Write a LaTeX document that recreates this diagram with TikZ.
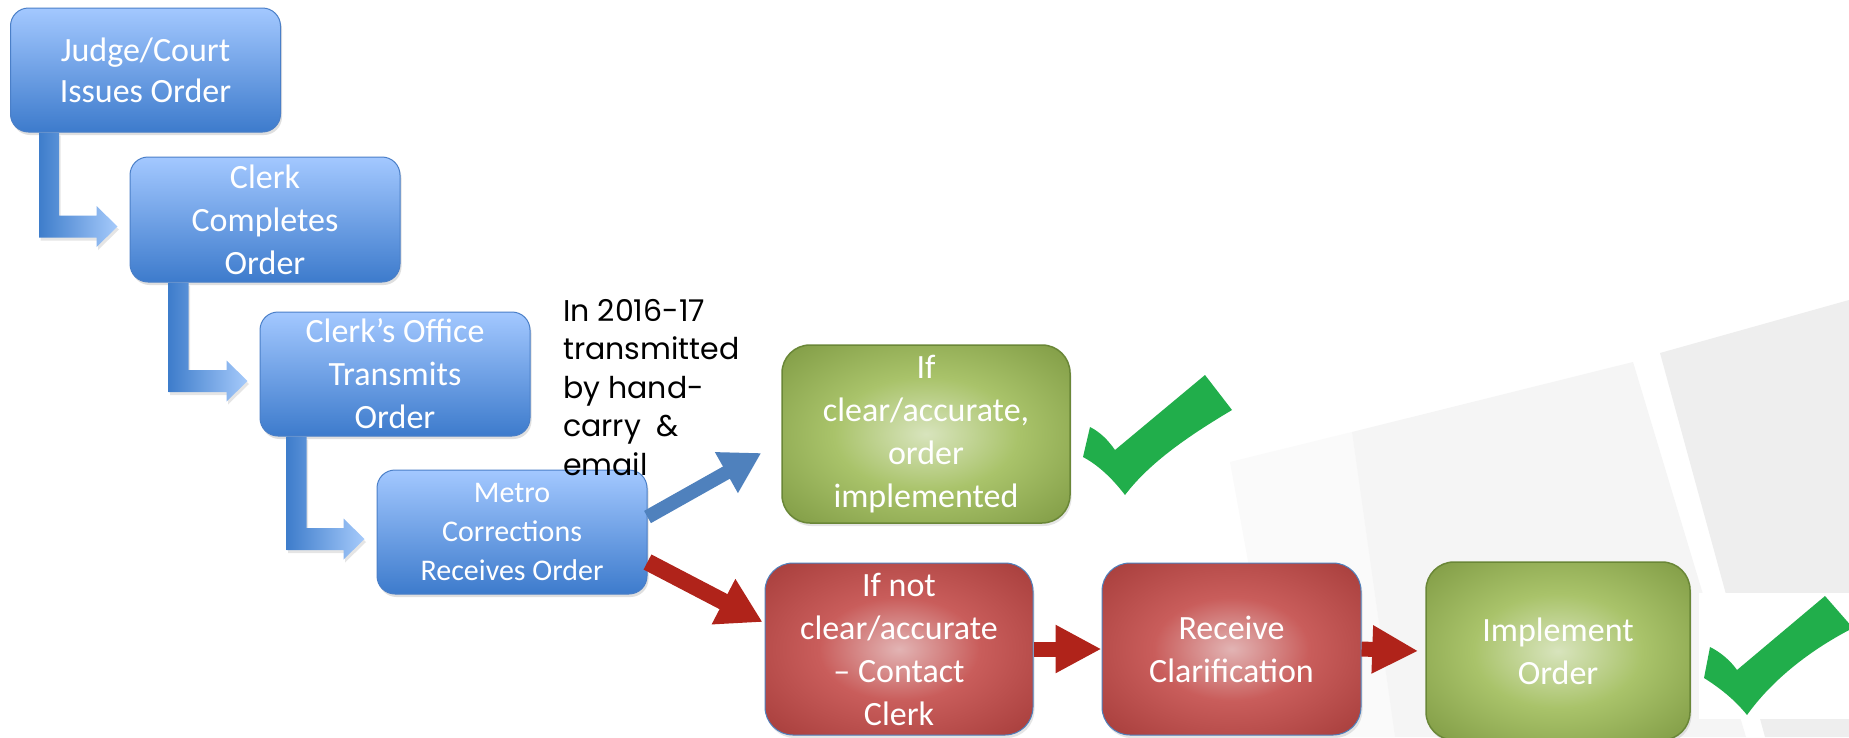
\documentclass[tikz,border=0pt]{standalone}
\usepackage{fontspec}
\setmainfont{Carlito}
\newfontfamily\gothic{Poppins}
\usetikzlibrary{arrows.meta,calc,shadows}

\definecolor{bluetop}{HTML}{A3C8FF}
\definecolor{bluebot}{HTML}{3D7BCC}
\definecolor{blueedge}{HTML}{4A7FC8}
\definecolor{arrowdark}{HTML}{3E7DCB}
\definecolor{arrowlight}{HTML}{A6CAFB}
\definecolor{steel}{HTML}{4F81BD}
\definecolor{brick}{HTML}{B0231A}
\definecolor{checkgreen}{HTML}{21AE4B}
\definecolor{Gzero}{HTML}{D8E4BD}
\definecolor{Gone}{HTML}{A9C36A}
\definecolor{Gtwo}{HTML}{87A24B}
\definecolor{Gthree}{HTML}{6A8737}
\definecolor{Rzero}{HTML}{E2B4B4}
\definecolor{Rone}{HTML}{C95D5B}
\definecolor{Rtwo}{HTML}{AE4442}
\definecolor{Rthree}{HTML}{863030}
\definecolor{panelfade}{HTML}{FAFAFA}
\definecolor{panelA}{HTML}{F5F5F5}
\definecolor{panelB}{HTML}{EEEEEE}

\pgfdeclareradialshading{greenglow}{\pgfpoint{0bp}{0bp}}{%
  color(0bp)=(Gzero); color(16bp)=(Gone); color(32bp)=(Gtwo);
  color(46bp)=(Gthree); color(75bp)=(Gthree)}
\pgfdeclareradialshading{redglow}{\pgfpoint{0bp}{0bp}}{%
  color(0bp)=(Rzero); color(15bp)=(Rone); color(31bp)=(Rtwo);
  color(46bp)=(Rthree); color(75bp)=(Rthree)}

\tikzset{
  box/.style={align=center, text=white, inner sep=0pt,
    font=\fontsize{34}{43}\selectfont},
  bluebox/.style={box, rounded corners=18pt, draw=blueedge, line width=1pt,
    top color=bluetop, bottom color=bluebot,
    minimum width=270pt, minimum height=124pt,
    drop shadow={opacity=0.25, shadow xshift=1.5pt, shadow yshift=-3pt}},
  greenbox/.style={box, rounded corners=28pt, draw=Gthree, line width=1.5pt,
    shading=greenglow,
    drop shadow={opacity=0.2, shadow xshift=1.5pt, shadow yshift=-3pt}},
  redbox/.style={box, rounded corners=28pt, draw=steel, line width=1pt,
    shading=redglow,
    drop shadow={opacity=0.2, shadow xshift=1.5pt, shadow yshift=-3pt}},
  elbowarrow/.style={left color=arrowdark, right color=arrowlight,
    drop shadow={opacity=0.2, shadow xshift=1.5pt, shadow yshift=-3pt}},
  bluefat/.style={draw=steel, line width=14pt,
    -{Triangle[width=44pt,length=40pt]}},
  redfat/.style={draw=brick, line width=17pt,
    -{Triangle[width=48pt,length=44pt]}},
  redlink/.style={draw=brick, line width=15pt,
    -{Triangle[width=45pt,length=46pt]}},
  tick/.style={fill=checkgreen},
}

% elbow connector: #1 source box, #2 target box, #3 shaft offset from the source's left edge
\newcommand\elbow[3]{%
  \path[elbowarrow] let \p1=(#1.south west), \p2=(#2.west) in
    (\x1+#3pt,\y1) -- (\x1+#3pt+20pt,\y1) -- (\x1+#3pt+20pt,\y2+4pt)
    -- (\x2-33pt,\y2+4pt) -- (\x2-33pt,\y2+13.5pt) -- (\x2-12pt,\y2-7pt)
    -- (\x2-33pt,\y2-27.5pt) -- (\x2-33pt,\y2-18pt) -- (\x1+#3pt,\y2-18pt)
    -- cycle;
}

\begin{document}
\begin{tikzpicture}[x=1pt,y=-1pt]
\useasboundingbox (0,0) rectangle (1849,737);
\clip (0,0) rectangle (1849,737);
\fill[white] (0,0) rectangle (1849,737);

% faint background panels
\fill[panelfade] (1230,462) -- (1352,432) -- (1395,737) -- (1280,737) -- cycle;
\fill[panelA] (1352,432) -- (1633,362) -- (1746,737) -- (1395,737) -- cycle;
\fill[panelB] (1660,353) -- (1849,300) -- (1849,737) -- (1765,737) -- cycle;
\fill[white] (1699,593) rectangle (1849,719);

% process boxes
\node[bluebox, font=\fontsize{34}{41}\selectfont] (judge) at (145.5,70) {Judge/Court\\Issues Order};
\node[bluebox, minimum height=125pt] (clerk) at (265,219.5) {Clerk\\Completes\\Order};
\node[bluebox] (office) at (395,374) {Clerk’s Office\\Transmits\\Order};
\node[bluebox, font=\fontsize{30}{39}\selectfont] (metro) at (512,532) {Metro\\Corrections\\Receives Order};

\node[greenbox, minimum width=288pt, minimum height=178pt] (green1) at (926,434)
  {If\\clear/accurate,\\order\\implemented};
\node[redbox, minimum width=268pt, minimum height=172pt] (red1) at (899,649)
  {If not\\clear/accurate\\– Contact\\Clerk};
\node[redbox, minimum width=259pt, minimum height=172pt] (red2) at (1231.5,649)
  {Receive\\Clarification};
\node[greenbox, minimum width=264pt, minimum height=178pt] (green2) at (1558,651)
  {Implement\\Order};

% connectors
\elbow{judge}{clerk}{29}
\elbow{clerk}{office}{39}
\elbow{office}{metro}{27}

\draw[bluefat] ($(metro.east)+(0,-15)$) -- ($(green1.west)+(-20,19)$);
\draw[redfat] ($(metro.east)+(0,30)$) -- ($(red1.west)+(-2,-27)$);
\draw[redlink] (red1.east) -- (red2.west);
\draw[redlink] (red2.east) -- ($(green2.west)+(-7,0)$);

% check marks
\path[tick] (1083,457) -- (1090,427) .. controls (1100,432) and (1108,440) .. (1115,450)
  -- (1205,375) -- (1232,410) .. controls (1190,435) and (1150,462) .. (1125,495)
  .. controls (1112,478) and (1098,465) .. (1083,457) -- cycle;
\path[tick] (1704,678) -- (1710,647) .. controls (1720,652) and (1730,660) .. (1737,670)
  -- (1825,596) -- (1853,628) .. controls (1810,650) and (1772,680) .. (1747,715)
  .. controls (1735,700) and (1720,688) .. (1704,678) -- cycle;

% annotation
\node[anchor=north west, align=left, inner sep=0pt,
  font=\gothic\fontsize{30}{38.5}\selectfont] (note) at (563,299)
  {In 2016-17\\transmitted\\by hand-\\carry~~\&\\email};
\end{tikzpicture}
\end{document}
